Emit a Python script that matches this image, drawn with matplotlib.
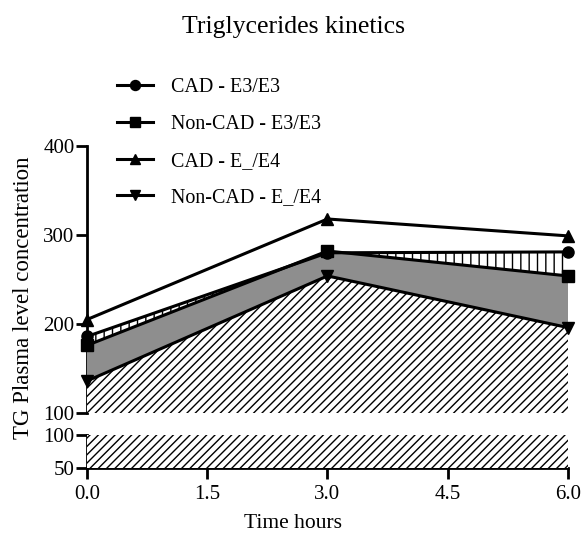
import matplotlib
matplotlib.use("Agg")
import matplotlib.pyplot as plt
import numpy as np

plt.rcParams['font.family'] = ['Liberation Serif', 'DejaVu Serif']
plt.rcParams['hatch.linewidth'] = 1.0

time_hours = [0.0, 3.0, 6.0]
cad_e3e3 = [186, 280, 281]
noncad_e3e3 = [176, 282, 254]
cad_e4 = [205, 318, 299]
noncad_e4 = [136, 254, 196]
labels = ["CAD - E3/E3", "Non-CAD - E3/E3", "CAD - E_/E4", "Non-CAD - E_/E4"]
xticks = [0.0, 1.5, 3.0, 4.5, 6.0]

W, H = 583, 535
fig = plt.figure(figsize=(W / 100, H / 100), dpi=100)

def ax_rect(x0, y0, x1, y1):
    return [x0 / W, 1 - y1 / H, (x1 - x0) / W, (y1 - y0) / H]

ax = fig.add_axes(ax_rect(87, 146, 568, 413))
axl = fig.add_axes(ax_rect(87, 435, 568, 468))

x = np.array(time_hours)
for a in (ax, axl):
    a.fill_between(x, cad_e4, 0, facecolor='white', edgecolor='none', zorder=1)
    a.fill_between(x, cad_e3e3, 0, facecolor='white', edgecolor='black', hatch='||', linewidth=0, zorder=2)
    a.fill_between(x, noncad_e3e3, 0, facecolor='#8e8e8e', edgecolor='none', zorder=3)
    a.fill_between(x, noncad_e4, 0, facecolor='white', edgecolor='black', hatch='////', linewidth=0, zorder=4)

lw = 2.2
ms = 8
h1, = ax.plot(x, cad_e3e3, color='black', lw=lw, marker='o', ms=ms, zorder=6, clip_on=False)
h2, = ax.plot(x, noncad_e3e3, color='black', lw=lw, marker='s', ms=ms, zorder=6, clip_on=False)
h3, = ax.plot(x, cad_e4, color='black', lw=lw, marker='^', ms=ms, zorder=6, clip_on=False)
h4, = ax.plot(x, noncad_e4, color='black', lw=lw, marker='v', ms=ms, zorder=6, clip_on=False)

ax.set_xlim(0, 6)
ax.set_ylim(100, 400)
ax.set_yticks([100, 200, 300, 400])
ax.set_xticks([])
for s in ('top', 'right', 'bottom'):
    ax.spines[s].set_visible(False)
ax.spines['left'].set_linewidth(2)
ax.tick_params(axis='y', width=2, length=8, labelsize=15, pad=1)

axl.set_xlim(0, 6)
axl.set_ylim(50, 100)
axl.set_yticks([50, 100])
axl.set_xticks(xticks)
axl.set_xticklabels([f"{t:.1f}" for t in xticks])
for s in ('top', 'right'):
    axl.spines[s].set_visible(False)
for s in ('left', 'bottom'):
    axl.spines[s].set_linewidth(2)
axl.tick_params(axis='both', width=2, length=8, labelsize=15, pad=1)
axl.tick_params(axis='x', pad=4)

fig.text(293 / W, 1 - 27 / H, "Triglycerides kinetics", ha='center', va='center', fontsize=18.5)
fig.text(24 / W, 1 - 298 / H, "TG Plasma level concentration", rotation=90, ha='center', va='center', fontsize=16.5)
fig.text(293 / W, 1 - 523 / H, "Time hours", ha='center', va='center', fontsize=15.5)

fig.legend([h1, h2, h3, h4], labels, loc='upper left', bbox_to_anchor=(109 / W, 1 - 70 / H),
           frameon=False, fontsize=14.4, handlelength=1.8, handletextpad=0.9,
           labelspacing=0.89, markerscale=0.9, borderaxespad=0)

fig.savefig("out.png", dpi=100)
